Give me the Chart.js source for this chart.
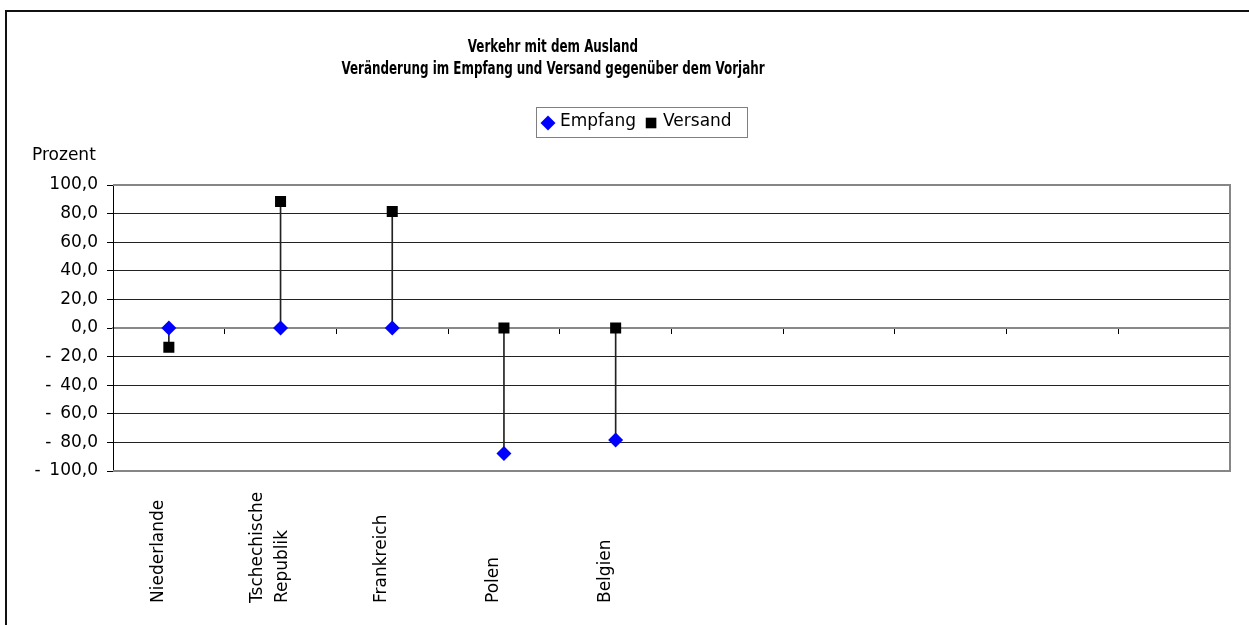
<!DOCTYPE html>
<html lang="de">
<head>
<meta charset="utf-8">
<title>Verkehr mit dem Ausland</title>
<script src="https://cdn.jsdelivr.net/npm/chart.js@4.4.1/dist/chart.umd.min.js"></script>
<style>
  html, body { margin: 0; padding: 0; background: #fff; }
  canvas { display: block; }
</style>
</head>
<body>
<canvas id="trafficChart" width="1249" height="625"></canvas>
<script>
const titleLines = ['Verkehr mit dem Ausland', 'Veränderung im Empfang und Versand gegenüber dem Vorjahr'];
const categories = ['Niederlande', ['Tschechische', 'Republik'], 'Frankreich', 'Polen', 'Belgien', '', '', '', '', ''];
const empfang = [0.0, 0.0, 0.0, -87.8, -78.4];
const versand = [-13.4, 88.4, 81.4, 0.0, 0.0];
const yTicks = [-100, -80, -60, -40, -20, 0, 20, 40, 60, 80, 100];
const unitLabel = 'Prozent';

const FONT = '"DejaVu Sans", sans-serif';

// 100,0 / - 20,0 style
const formatTick = (v) => {
  const s = Math.abs(v).toFixed(1).replace('.', ',');
  return v < 0 ? '- \u2009' + s : s;
};

const decorPlugin = {
  id: 'decor',
  beforeDatasetsDraw(chart) {
    const { ctx, chartArea: a } = chart;
    ctx.save();
    ctx.strokeStyle = '#868686';
    ctx.lineWidth = 2;
    ctx.beginPath();
    ctx.moveTo(a.left, a.top);
    ctx.lineTo(a.right, a.top);
    ctx.lineTo(a.right, a.bottom);
    ctx.lineTo(a.left, a.bottom);
    ctx.stroke();
    ctx.restore();
  },
  afterDraw(chart) {
    const { ctx, scales: { x } } = chart;
    ctx.save();

    // outer frame, runs off the right and bottom edge
    ctx.fillStyle = '#111';
    ctx.fillRect(5, 10, 2, chart.height - 10);
    ctx.fillRect(5, 10, chart.width - 5, 2);

    // title in a condensed bold face
    ctx.fillStyle = '#000';
    ctx.textAlign = 'center';
    ctx.textBaseline = 'alphabetic';
    ctx.font = 'bold 17px "DejaVu Sans Condensed", "DejaVu Sans", sans-serif';
    titleLines.forEach((line, i) => {
      ctx.save();
      ctx.translate(553, 52 + i * 22);
      ctx.scale(0.78, 1);
      ctx.fillText(line, 0, 0);
      ctx.restore();
    });

    // framed legend
    ctx.strokeStyle = '#808080';
    ctx.lineWidth = 1;
    ctx.strokeRect(536.5, 107.5, 211, 30);
    ctx.font = `17px ${FONT}`;
    ctx.textAlign = 'left';
    ctx.textBaseline = 'middle';
    let lx = 542;
    chart.data.datasets.filter((d) => d.type === 'line').forEach((d) => {
      ctx.fillStyle = d.pointBackgroundColor;
      Chart.helpers.drawPoint(ctx, { pointStyle: d.pointStyle, radius: 7.5, borderWidth: 0, rotation: 0 }, lx + 6, 123);
      ctx.fillStyle = '#000';
      ctx.fillText(d.label, lx + 18, 122);
      lx += 18 + ctx.measureText(d.label).width + 9;
    });

    // unit above the value axis
    ctx.font = `17px ${FONT}`;
    ctx.textBaseline = 'alphabetic';
    ctx.fillText(unitLabel, 32, 160);

    // rotated category names, anchored at the bottom
    chart.data.labels.forEach((label, i) => {
      const lines = [].concat(label);
      const px = x.getPixelForValue(i);
      lines.forEach((line, j) => {
        if (!line) return;
        ctx.save();
        ctx.translate(px - 6 + (j - (lines.length - 1) / 2) * 25, 603);
        ctx.rotate(-Math.PI / 2);
        ctx.fillText(line, 0, 0);
        ctx.restore();
      });
    });

    ctx.restore();
  },
};

const ctx = document.getElementById('trafficChart');

const trafficChart = new Chart(ctx, {
  data: {
    labels: categories,
    datasets: [
      {
        type: 'line',
        label: 'Empfang',
        data: empfang,
        showLine: false,
        pointStyle: 'rectRot',
        pointRadius: 7.5,
        pointBackgroundColor: '#0000ff',
        pointBorderWidth: 0,
        order: 1,
      },
      {
        type: 'line',
        label: 'Versand',
        data: versand,
        showLine: false,
        pointStyle: 'rect',
        pointRadius: 7.8,
        pointBackgroundColor: '#000000',
        pointBorderWidth: 0,
        order: 0,
      },
      {
        // high-low line between the two series
        type: 'bar',
        label: 'Spanne',
        data: empfang.map((v, i) => [v, versand[i]]),
        backgroundColor: '#222',
        barThickness: 1,
        order: 2,
      },
    ],
  },
  options: {
    responsive: false,
    animation: false,
    layout: { padding: { top: 185, right: 19, bottom: 154, left: 0 } },
    plugins: {
      legend: { display: false },
      title: { display: false },
      tooltip: { enabled: false },
    },
    scales: {
      x: {
        type: 'category',
        position: { y: 0 },
        offset: true,
        grid: { offset: true, drawOnChartArea: false, tickLength: 5, color: '#000', lineWidth: 1 },
        border: { color: '#888', width: 2 },
        ticks: { display: false },
      },
      y: {
        type: 'linear',
        min: -100,
        max: 100,
        afterFit: (scale) => { scale.width = 113; },
        afterBuildTicks: (scale) => { scale.ticks = yTicks.map((value) => ({ value })); },
        ticks: {
          font: { family: FONT, size: 17 },
          color: '#000',
          padding: 9,
          callback: (value) => formatTick(value),
        },
        grid: {
          color: (c) => (c.tick && c.tick.value === 0 ? 'rgba(0,0,0,0)' : '#222'),
          tickColor: '#000',
          tickLength: 6,
        },
        border: { color: '#000', width: 1 },
      },
    },
  },
  plugins: [decorPlugin],
});
</script>
</body>
</html>
